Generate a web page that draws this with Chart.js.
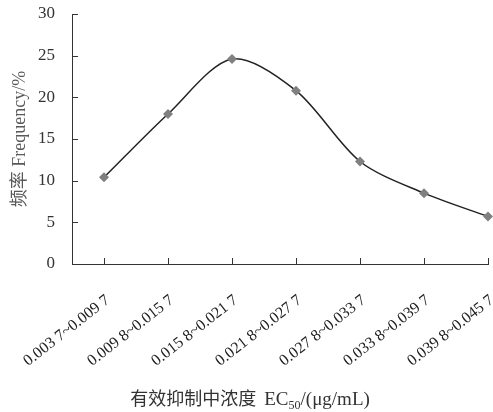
<!DOCTYPE html>
<html>
<head>
<meta charset="utf-8">
<script src="https://cdn.jsdelivr.net/npm/chart.js@4.4.1/dist/chart.umd.min.js"></script>
<style>
  html, body { margin: 0; padding: 0; background: #fff; }
  #wrap { width: 493px; height: 412px; position: relative; }
</style>
</head>
<body>
<div id="wrap"><canvas id="c"></canvas></div>
<script>
// EC50 distribution – frequency per concentration class
var categories = [
  "0.003 7~0.009 7",
  "0.009 8~0.015 7",
  "0.015 8~0.021 7",
  "0.021 8~0.027 7",
  "0.027 8~0.033 7",
  "0.033 8~0.039 7",
  "0.039 8~0.045 7"
];
var frequency = [10.4, 18.0, 24.6, 20.8, 12.3, 8.5, 5.7];
var yTicks = [0, 5, 10, 15, 20, 25, 30];

var SERIF = "'Liberation Serif', 'Times New Roman', serif";

// inner tick marks + x-axis title with subscript
var decorations = {
  id: "decorations",
  afterDraw: function (chart) {
    var ctx = chart.ctx;
    var xs = chart.scales.x, ys = chart.scales.y;
    var area = chart.chartArea;
    ctx.save();
    ctx.strokeStyle = "#333";
    ctx.lineWidth = 1;
    ctx.beginPath();
    yTicks.forEach(function (v) {
      if (v === 0) return;
      var py = Math.round(ys.getPixelForValue(v)) + 0.5;
      ctx.moveTo(area.left, py);
      ctx.lineTo(area.left + 6, py);
    });
    categories.forEach(function (c, i) {
      var px = Math.round(xs.getPixelForValue(i)) + 0.5;
      ctx.moveTo(px, area.bottom);
      ctx.lineTo(px, area.bottom - 6);
    });
    ctx.stroke();

    // x title: 有效抑制中浓度  EC50/(μg/mL)
    var y = 405;
    var parts = [
      { t: "有效抑制中浓度  ", f: "18px 'Noto Sans CJK SC', sans-serif", dy: 0 },
      { t: "EC", f: "19px " + SERIF, dy: 0 },
      { t: "50", f: "12px " + SERIF, dy: 4 },
      { t: "/(μg/mL)", f: "19px " + SERIF, dy: 0 }
    ];
    var total = 0;
    parts.forEach(function (p) { ctx.font = p.f; p.w = ctx.measureText(p.t).width; total += p.w; });
    var x = 250 - total / 2;
    ctx.fillStyle = "#333";
    ctx.textBaseline = "alphabetic";
    ctx.textAlign = "left";
    parts.forEach(function (p) {
      ctx.font = p.f;
      ctx.fillText(p.t, x, y + p.dy);
      x += p.w;
    });
    ctx.restore();
  }
};

new Chart(document.getElementById("c"), {
  type: "line",
  data: {
    datasets: [{
      data: frequency.map(function (v, i) { return { x: i, y: v }; }),
      borderColor: "#222",
      borderWidth: 1.5,
      tension: 0.3,
      pointStyle: "rectRot",
      pointRadius: 5,
      pointBackgroundColor: "#808080",
      pointBorderColor: "#808080",
      pointBorderWidth: 0,
      fill: false,
      clip: false
    }]
  },
  options: {
    responsive: true,
    maintainAspectRatio: false,
    animation: false,
    layout: { padding: { top: 14, right: 2, left: 0, bottom: 0 } },
    plugins: { legend: { display: false }, tooltip: { enabled: false } },
    scales: {
      x: {
        type: "linear",
        min: -0.5,
        max: categories.length - 1,
        afterBuildTicks: function (s) {
          s.ticks = categories.map(function (c, i) { return { value: i }; });
        },
        afterFit: function (s) {
          s.height = 148;
          s.paddingLeft = 0;
          s.paddingRight = 0;
        },
        grid: { display: false, drawTicks: false },
        border: { display: true, color: "#333", width: 1 },
        ticks: {
          autoSkip: false,
          minRotation: 38,
          maxRotation: 38,
          padding: 27,
          labelOffset: 4,
          color: "#222",
          font: { family: SERIF, size: 16 },
          callback: function (v) { return categories[v]; }
        }
      },
      y: {
        min: 0,
        max: 30,
        afterBuildTicks: function (s) {
          s.ticks = yTicks.map(function (v) { return { value: v }; });
        },
        afterFit: function (s) {
          s.width = 72;
          s.paddingTop = 0;
          s.paddingBottom = 0;
        },
        grid: { display: false, drawTicks: false },
        border: { display: true, color: "#333", width: 1 },
        ticks: {
          padding: 17,
          color: "#333",
          font: { family: SERIF, size: 17 }
        },
        title: {
          display: true,
          text: "频率 Frequency/%",
          color: "#595959",
          font: { family: "'Liberation Serif', 'Noto Sans CJK SC', serif", size: 18 },
          padding: { top: 9, bottom: 0 }
        }
      }
    }
  },
  plugins: [decorations]
});
</script>
</body>
</html>
